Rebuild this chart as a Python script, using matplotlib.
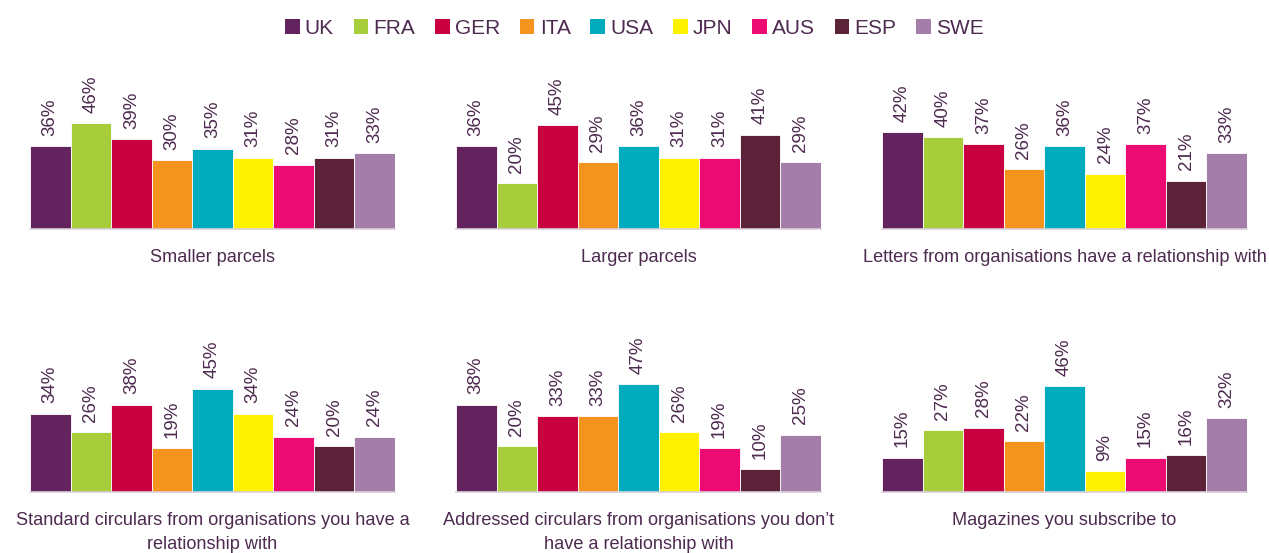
import matplotlib
matplotlib.use('Agg')
import matplotlib.pyplot as plt
from matplotlib.patches import Patch

# ====== data ======
countries = ['UK', 'FRA', 'GER', 'ITA', 'USA', 'JPN', 'AUS', 'ESP', 'SWE']
colors = ['#62235f', '#a8cd3a', '#c8003f', '#f5931f', '#00abbd',
          '#fff200', '#ec0a73', '#5c2238', '#a57da9']

titles = [
    'Smaller parcels',
    'Larger parcels',
    'Letters from organisations have a relationship with',
    'Standard circulars from organisations you have a\nrelationship with',
    'Addressed circulars from organisations you don\u2019t\nhave a relationship with',
    'Magazines you subscribe to',
]

smaller_parcels = [36, 46, 39, 30, 35, 31, 28, 31, 33]
larger_parcels = [36, 20, 45, 29, 36, 31, 31, 41, 29]
letters_rel = [42, 40, 37, 26, 36, 24, 37, 21, 33]
standard_circ = [34, 26, 38, 19, 45, 34, 24, 20, 24]
addressed_circ = [38, 20, 33, 33, 47, 26, 19, 10, 25]
magazines = [15, 27, 28, 22, 46, 9, 15, 16, 32]

series = [smaller_parcels, larger_parcels, letters_rel,
          standard_circ, addressed_circ, magazines]

# ====== style ======
text_col = '#4d2a4f'
plt.rcParams['font.family'] = ['Liberation Sans', 'DejaVu Sans']

fig = plt.figure(figsize=(12.69, 5.53), dpi=100)
W, H = 1269, 553

lefts = [30, 456, 882]
bases = [229, 492]
ax_w = 365
ymax = 60
ax_h = ymax * 2.3

for i, vals in enumerate(series):
    r, c = divmod(i, 3)
    ax = fig.add_axes([lefts[c] / W, 1 - bases[r] / H, ax_w / W, ax_h / H])
    x = range(len(vals))
    ax.bar(x, vals, width=1.0, color=colors, edgecolor='white', linewidth=0.6)
    for xi, v in zip(x, vals):
        ax.text(xi, v + 4.5, f'{v}%', rotation=90, ha='center', va='bottom',
                fontsize=13.5, color=text_col)
    ax.set_xlim(-0.5, len(vals) - 0.5)
    ax.set_ylim(0, ymax)
    for s in ['top', 'right', 'left']:
        ax.spines[s].set_visible(False)
    ax.spines['bottom'].set_color('#d9d0d9')
    ax.spines['bottom'].set_linewidth(1.2)
    ax.set_xticks([])
    ax.set_yticks([])
    ax.patch.set_alpha(0)
    ax.annotate(titles[i], xy=(0.5, 0), xycoords='axes fraction',
                xytext=(0, -14.5), textcoords='offset points',
                ha='center', va='top', fontsize=13.1, color=text_col,
                linespacing=1.55)

handles = [Patch(facecolor=col, edgecolor='none') for col in colors]
leg = fig.legend(handles, countries, loc='center', bbox_to_anchor=(0.5, 1 - 28 / H),
                 ncol=9, frameon=False, fontsize=15, handlelength=0.7,
                 handleheight=0.7, handletextpad=0.25, columnspacing=0.95)
for t in leg.get_texts():
    t.set_color(text_col)

fig.savefig('out.png', dpi=100)
